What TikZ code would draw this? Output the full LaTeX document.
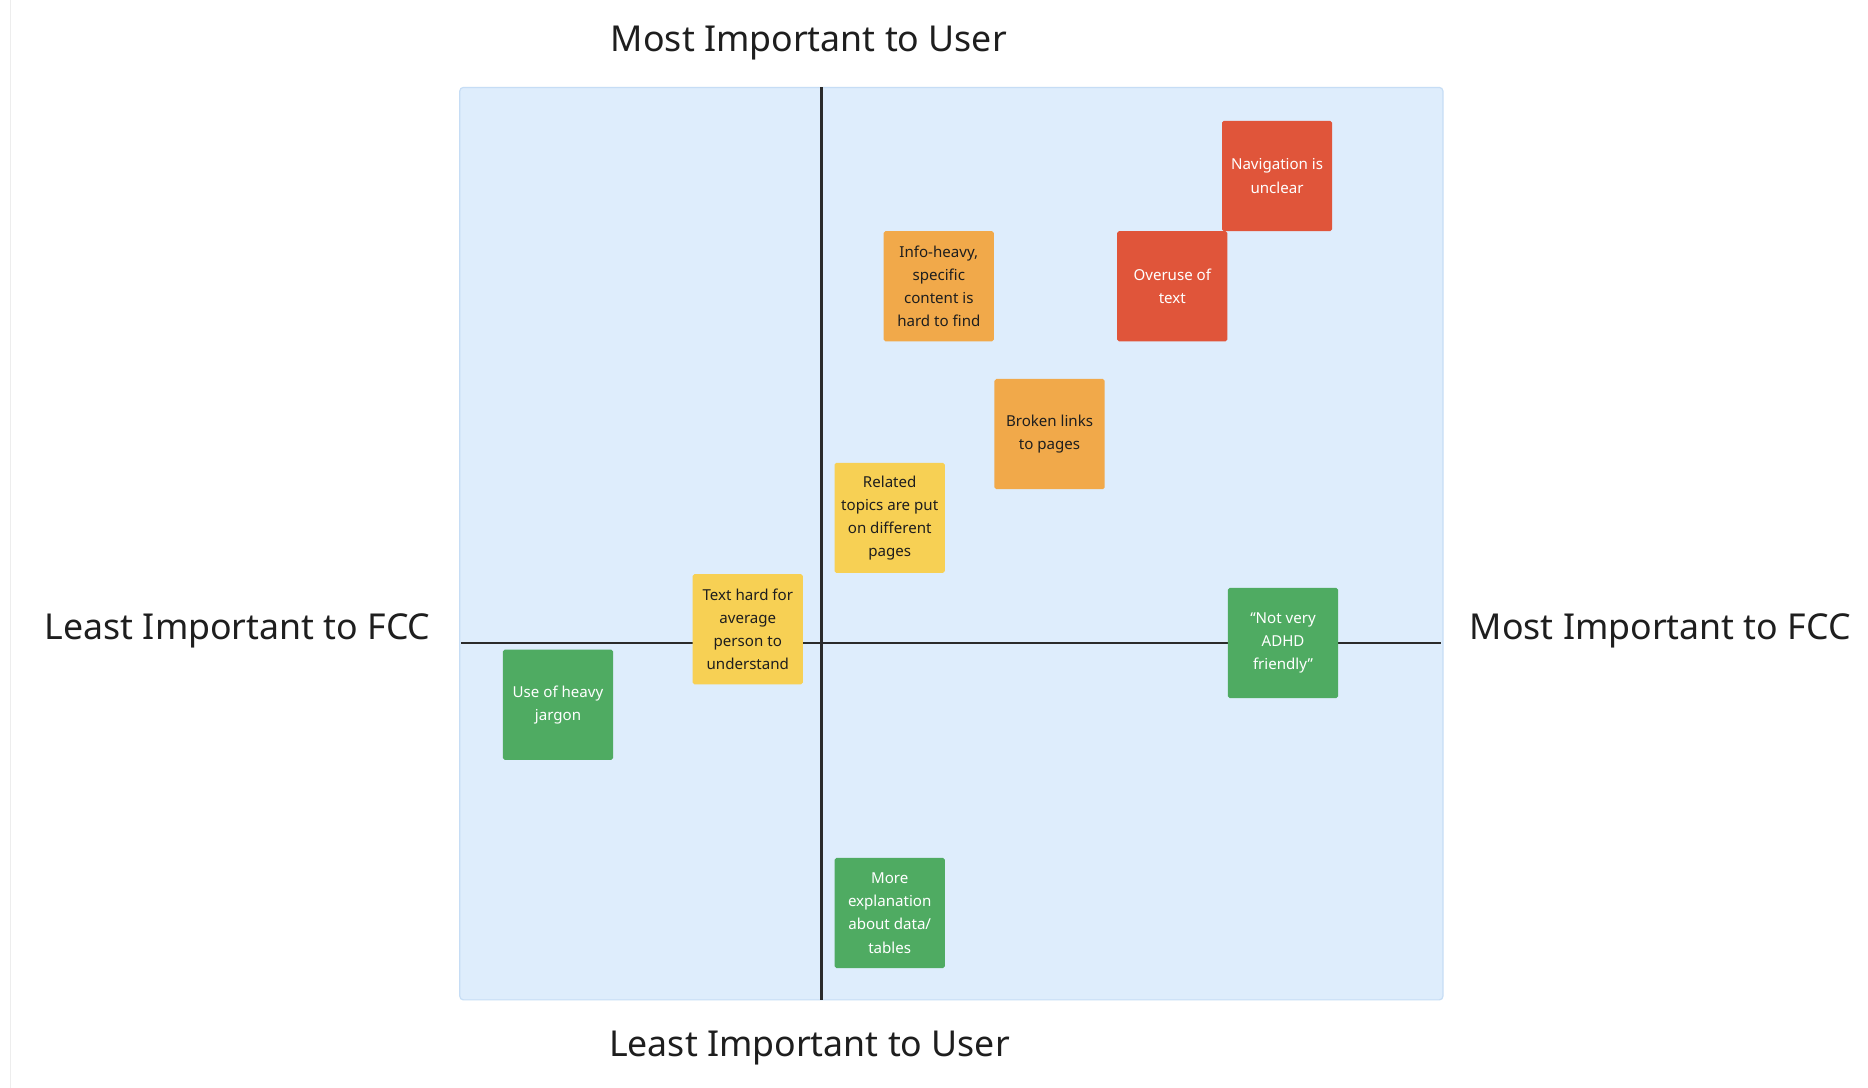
\documentclass[tikz,border=0pt]{standalone}
\usepackage{fontspec}
\setmainfont{Noto Sans}
\definecolor{panelfill}{HTML}{DEEDFC}
\definecolor{panelline}{HTML}{C6DDF5}
\definecolor{notered}{HTML}{E0553A}
\definecolor{noteorange}{HTML}{F1A94A}
\definecolor{noteyellow}{HTML}{F7D054}
\definecolor{notegreen}{HTML}{4FAB62}
\definecolor{axisline}{HTML}{2B2B2B}
\definecolor{darktext}{HTML}{1E1E1E}
\tikzset{
  note/.style={minimum width=92pt, minimum height=92pt, inner sep=0pt, align=center,
    rounded corners=1.5pt, font=\fontsize{12.6pt}{19.3pt}\selectfont},
  redn/.style={note, fill=notered, text=white},
  orangen/.style={note, fill=noteorange, text=darktext},
  yellown/.style={note, fill=noteyellow, text=darktext},
  greenn/.style={note, fill=notegreen, text=white},
  title/.style={font=\fontsize{29.8pt}{34pt}\selectfont, text=darktext, inner sep=0pt, anchor=base},
  axis/.style={draw=axisline, line width=2.4pt}
}
\begin{document}
\begin{tikzpicture}[x=1pt,y=-1pt]
\useasboundingbox (0,0) rectangle (1560,908.6);
\fill[white] (0,0) rectangle (1560,908.6);
\draw[black!7, line width=1pt] (9,0) -- (9,908.6);
% panel
\draw[fill=panelfill, draw=panelline, line width=1pt, rounded corners=3pt] (384,73) rectangle (1205,835);
% axes
\coordinate (vt) at (686,73);
\coordinate (vb) at (686,835);
\coordinate (hl) at (385,537);
\coordinate (hr) at (1203,537);
\draw[axis] (vt) -- (vb);
\draw[axis] (hl) -- (hr);
% titles
\node[title] (tTop) at (675.5,43.2) {Most Important to User};
\node[title] (tBot) at (676,881.9) {Least Important to User};
\node[title] (tLeft) at (198.5,534) {Least Important to FCC};
\node[title] (tRight) at (1386.5,534) {Most Important to FCC};
% notes
\node[redn] (nav) at (1066.5,147) {Navigation is\\unclear};
\node[redn] (over) at (979,239) {Overuse of\\text};
\node[orangen] (info) at (784,239) {Info-heavy,\\specific\\content is\\hard to find};
\node[orangen] (broken) at (876.5,362.5) {Broken links\\to pages};
\node[yellown] (related) at (743,432.5) {Related\\topics are put\\on different\\pages};
\node[yellown] (hard) at (624.5,525.5) {Text hard for\\average\\person to\\understand};
\node[greenn] (jargon) at (466,588.5) {Use of heavy\\jargon};
\node[greenn] (adhd) at (1071.5,537) {“Not very\\ADHD\\friendly”};
\node[greenn] (more) at (743,762.5) {More\\explanation\\about data/\\tables};
\end{tikzpicture}
\end{document}
